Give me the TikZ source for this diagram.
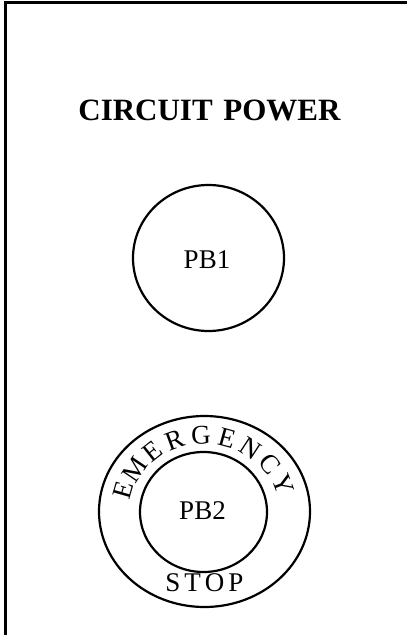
\documentclass[tikz,border=0pt]{standalone}
\usepackage{fontspec}
\setmainfont{Liberation Serif}
\usetikzlibrary{shapes.geometric}
\begin{document}
\begin{tikzpicture}[x=1pt,y=1pt,
  ring/.style={draw, ellipse, line width=2.2pt, inner sep=0pt},
  lbl/.style={inner sep=0pt, font=\fontsize{27}{27}\selectfont},
  frame/.style={line width=2.2pt}]
\useasboundingbox (0,0) rectangle (407,-635);
\coordinate (tl) at (5.5,-2.5);
\coordinate (tr) at (407,-2.5);
\coordinate (bl) at (5.5,-635);
\draw[frame] (tr) -- (tl) -- (bl);
\node[inner sep=0pt, font=\bfseries\fontsize{31}{31}\selectfont] (title) at (209.5,-110) {CIRCUIT\hspace{3pt} POWER};
\node[ring, minimum width=151, minimum height=146] (pb1) at (208.5,-258) {};
\node[lbl] (pb1t) at (207,-260) {PB1};
\node[ring, minimum width=211, minimum height=191] (outer) at (204.5,-511.5) {};
\node[ring, minimum width=127, minimum height=120] (pb2) at (203.5,-512) {};
\node[lbl] (pb2t) at (202.5,-511) {PB2};
\foreach \ch [count=\i] in {E,M,E,R,G,E,N,C,Y} {
  \pgfmathsetmacro\ang{164-(\i-1)*17.9}
  \node[lbl, rotate=\ang-90] (em\i) at ([shift={(\ang:84 and 76)}]outer.center) {\ch};
}
\node[lbl] (stop) at (204.5,-583) {S\hspace{4pt}T\hspace{4pt}O\hspace{4pt}P};
\end{tikzpicture}
\end{document}
